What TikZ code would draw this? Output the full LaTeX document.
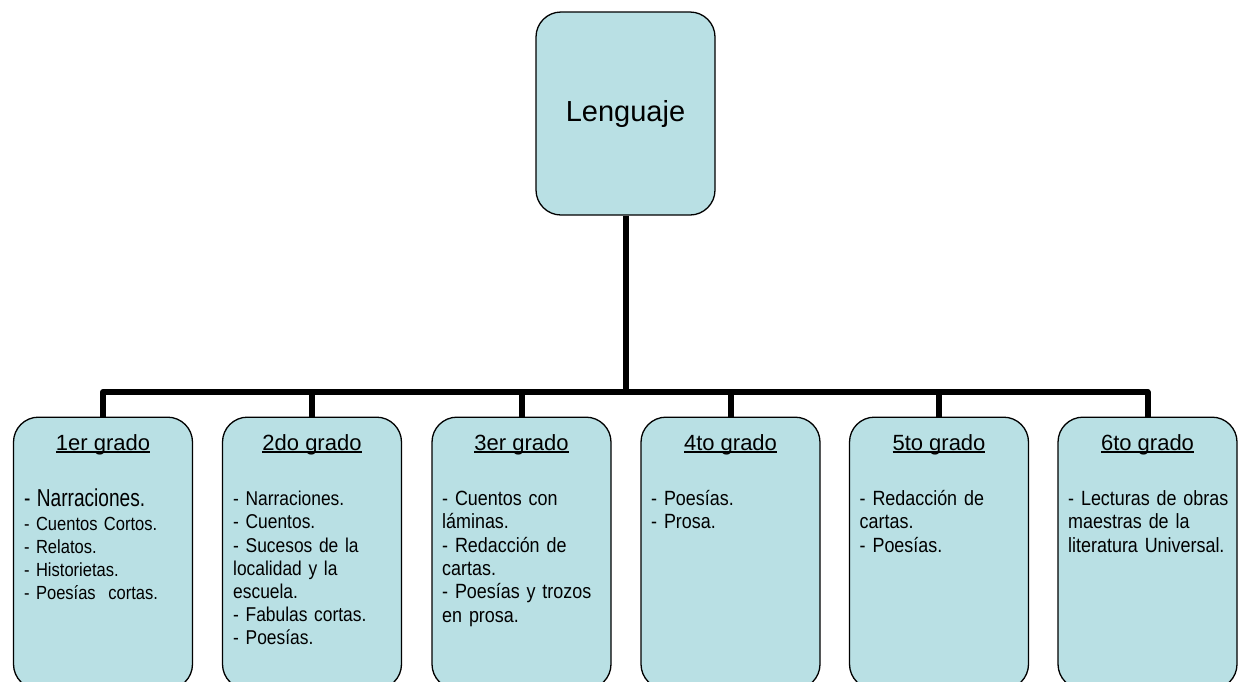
\documentclass[tikz,border=0pt]{standalone}
\usepackage{fontspec}
\setmainfont{Liberation Sans}
\newfontfamily\listfont[FakeStretch=0.87,WordSpace=0.8]{Liberation Sans}
\newfontfamily\leadfont[FakeStretch=0.78,WordSpace=0.8]{Liberation Sans}
\definecolor{boxfill}{RGB}{185,224,228}
\newcommand{\gradeul}[1]{\setbox0=\hbox{#1}\rlap{\rule[-2.8pt]{\wd0}{1.4pt}}\box0}

\begin{document}
\begin{tikzpicture}[x=1pt,y=-1pt,
    topbox/.style={draw,line width=1.3pt,fill=boxfill,rounded corners=25pt,
      minimum width=179pt,minimum height=203pt,font=\fontsize{29}{33}\selectfont},
    gradebox/.style={draw,line width=1.3pt,fill=boxfill,rounded corners=25pt,
      minimum width=179pt,minimum height=272pt,anchor=north},
    gradetitle/.style={anchor=base,inner sep=0pt,font=\fontsize{22}{26}\selectfont},
    gradelist/.style={anchor=base west,inner sep=0pt,text width=165pt,align=left,
      font=\listfont\fontsize{20.6}{23.3}\selectfont},
    conn/.style={line width=6pt,line join=round}]
      \useasboundingbox (0,0) rectangle (1238,681);
      \node[topbox] (lenguaje) at (625.5,113.5) {Lenguaje};
      \node[gradebox] (g1) at (103,416.5) {};
      \node[gradebox] (g2) at (312,416.5) {};
      \node[gradebox] (g3) at (521.5,416.5) {};
      \node[gradebox] (g4) at (730.5,416.5) {};
      \node[gradebox] (g5) at (939,416.5) {};
      \node[gradebox] (g6) at (1147.5,416.5) {};
      \node[gradetitle] (t1) at (103,450) {\gradeul{1er grado}};
      \node[gradetitle] (t2) at (312,450) {\gradeul{2do grado}};
      \node[gradetitle] (t3) at (521.5,450) {\gradeul{3er grado}};
      \node[gradetitle] (t4) at (730.5,450) {\gradeul{4to grado}};
      \node[gradetitle] (t5) at (939,450) {\gradeul{5to grado}};
      \node[gradetitle] (t6) at (1147.5,450) {\gradeul{6to grado}};
      \node[gradelist,font=\listfont\fontsize{19}{23.3}\selectfont] (l1) at (24,506.7)
        {{\leadfont\fontsize{24.5}{23.3}\selectfont - Narraciones.}\\ - Cuentos Cortos.\\ - Relatos.\\
         - Historietas.\\ - Poesías\ \ cortas.};
      \node[gradelist,font=\listfont\fontsize{20}{23.2}\selectfont] (l2) at (233,505.7)
        {- Narraciones.\\ - Cuentos.\\ - Sucesos de la\\ localidad y la\\ escuela.\\
         - Fabulas cortas.\\ - Poesías.};
      \node[gradelist] (l3) at (442,505.5)
        {- Cuentos con\\ láminas.\\ - Redacción de\\ cartas.\\ - Poesías y trozos\\ en prosa.};
      \node[gradelist] (l4) at (651,505.5) {- Poesías.\\ - Prosa.};
      \node[gradelist] (l5) at (859.5,505.5) {- Redacción de\\ cartas.\\ - Poesías.};
      \node[gradelist] (l6) at (1068,505.5)
        {- Lecturas de obras\\ maestras de la\\ literatura Universal.};
      \coordinate (hub) at (625.5,392);
      \begin{scope}[conn]
        \draw (lenguaje.south) -- (hub);
        \draw (hub) -| (g1.north);
        \draw (hub) -| (g2.north);
        \draw (hub) -| (g3.north);
        \draw (hub) -| (g4.north);
        \draw (hub) -| (g5.north);
        \draw (hub) -| (g6.north);
      \end{scope}
    \end{tikzpicture}
\end{document}
